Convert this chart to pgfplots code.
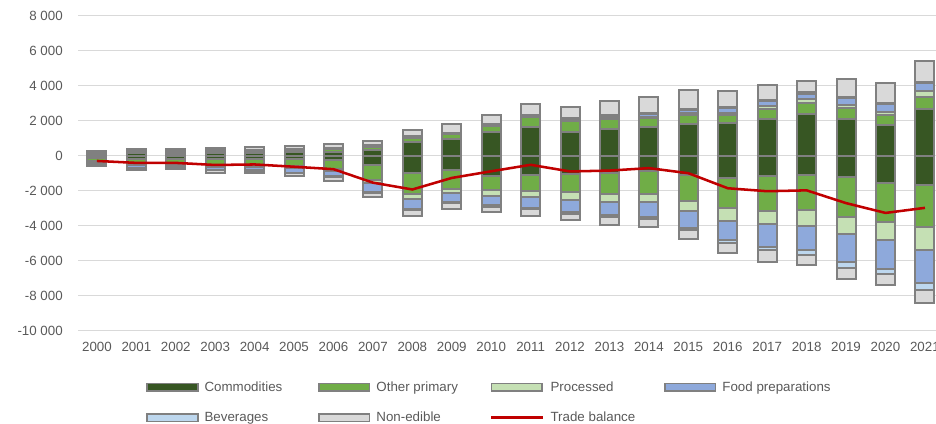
\documentclass[border=0pt]{standalone}
\usepackage{fontspec}
\setmainfont{Liberation Sans}
\usepackage{pgfplots}
\usepackage{pgfplotstable}
\pgfplotsset{compat=1.18}

\definecolor{comm}{HTML}{375623}
\definecolor{oprim}{HTML}{70AD47}
\definecolor{proc}{HTML}{C5E0B4}
\definecolor{food}{HTML}{8EA9DB}
\definecolor{bev}{HTML}{BDD7EE}
\definecolor{nonedible}{HTML}{D9D9D9}
\definecolor{edge}{HTML}{808080}
\definecolor{balance}{HTML}{C00000}
\definecolor{txt}{HTML}{595959}
\definecolor{gridc}{HTML}{D9D9D9}

% exports (positive part of the bars)
\pgfplotstableread{
year comm oprim proc food bev nonedible
2000 80 60 20 20 10 80
2001 130 80 20 30 10 120
2002 100 90 20 30 10 100
2003 150 90 20 30 10 130
2004 160 100 20 40 10 140
2005 180 120 30 40 10 160
2006 220 150 30 40 10 190
2007 330 160 30 50 10 250
2008 760 250 40 40 10 360
2009 930 280 40 50 10 470
2010 1330 360 50 60 15 500
2011 1610 590 50 70 20 590
2012 1360 590 80 90 20 650
2013 1520 560 110 110 30 780
2014 1610 520 80 170 40 940
2015 1800 520 110 190 40 1080
2016 1830 480 140 260 50 930
2017 2090 570 170 290 60 850
2018 2370 650 190 330 80 650
2019 2110 620 180 380 60 1000
2020 1750 560 200 430 60 1150
2021 2680 690 330 440 50 1230
}\exports

% imports (negative part of the bars)
\pgfplotstableread{
year comm oprim proc food bev nonedible
2000 -120 -200 -60 -100 -20 -80
2001 -200 -280 -80 -130 -30 -110
2002 -170 -280 -80 -130 -30 -100
2003 -200 -340 -100 -160 -40 -130
2004 -190 -360 -100 -180 -40 -130
2005 -190 -420 -120 -240 -40 -160
2006 -250 -500 -140 -300 -50 -200
2007 -540 -840 -210 -480 -60 -250
2008 -990 -1190 -300 -560 -70 -330
2009 -820 -1070 -240 -530 -60 -330
2010 -1160 -810 -320 -560 -70 -280
2011 -1130 -900 -330 -630 -90 -380
2012 -1080 -1030 -410 -690 -110 -385
2013 -1000 -1170 -460 -760 -110 -470
2014 -900 -1280 -480 -850 -110 -450
2015 -1100 -1520 -550 -980 -120 -520
2016 -1290 -1710 -720 -1120 -150 -560
2017 -1180 -1970 -780 -1270 -220 -650
2018 -1120 -2000 -880 -1420 -280 -560
2019 -1250 -2260 -990 -1610 -290 -670
2020 -1550 -2220 -1080 -1620 -300 -650
2021 -1660 -2450 -1280 -1900 -410 -710
}\imports

\pgfplotstableread{
year bal
2000 -310
2001 -420
2002 -420
2003 -540
2004 -510
2005 -640
2006 -780
2007 -1550
2008 -1940
2009 -1280
2010 -900
2011 -530
2012 -910
2013 -860
2014 -720
2015 -1010
2016 -1870
2017 -2040
2018 -1990
2019 -2720
2020 -3280
2021 -2990
}\balance

\pgfplotsset{
  frame/.style={
    scale only axis, width=643.5pt, height=236.25pt,
    at={(58.5pt,70.1pt)}, anchor=south west,
    xmin=1999.52, xmax=2021.28, ymin=-10000, ymax=8000,
  },
  bars/.style={
    frame, ybar stacked, bar width=14.25pt, hide axis,
    every axis plot/.append style={draw=edge, line width=1.5pt},
  },
  sw/.style={legend image code/.code={%
    \draw[draw=edge, line width=1.2pt, fill=#1] (0pt,-2.85pt) rectangle (38pt,2.85pt);}},
}

\begin{document}
\begin{tikzpicture}
\useasboundingbox (0,0) rectangle (702pt,318pt);

% grid and tick labels
\begin{axis}[
    frame,
    axis line style={draw=none},
    tick style={draw=none},
    ymajorgrids=true,
    grid style={gridc, line width=1.2pt},
    scaled ticks=false,
    xtick={2000,...,2021},
    ytick={-10000,-8000,...,8000},
    yticklabels={-10 000,-8 000,-6 000,-4 000,-2 000,0,2 000,4 000,6 000,8 000},
    /pgf/number format/assume math mode=true,
    x tick label style={/pgf/number format/1000 sep=},
    tick label style={font=\fontsize{10}{12}\selectfont, text=txt, inner sep=0pt},
    yticklabel style={anchor=east, xshift=-11.25pt},
    xticklabel style={anchor=base, yshift=-15.4pt},
]
\addplot[draw=none] coordinates {(2000,0)};
\end{axis}

% positive side
\begin{axis}[bars]
  \addplot[fill=comm] table[x=year,y=comm]{\exports};
  \addplot[fill=oprim] table[x=year,y=oprim]{\exports};
  \addplot[fill=proc] table[x=year,y=proc]{\exports};
  \addplot[fill=food] table[x=year,y=food]{\exports};
  \addplot[fill=bev] table[x=year,y=bev]{\exports};
  \addplot[fill=nonedible] table[x=year,y=nonedible]{\exports};
\end{axis}

% negative side
\begin{axis}[bars]
  \addplot[fill=comm] table[x=year,y=comm]{\imports};
  \addplot[fill=oprim] table[x=year,y=oprim]{\imports};
  \addplot[fill=proc] table[x=year,y=proc]{\imports};
  \addplot[fill=food] table[x=year,y=food]{\imports};
  \addplot[fill=bev] table[x=year,y=bev]{\imports};
  \addplot[fill=nonedible] table[x=year,y=nonedible]{\imports};
\end{axis}

% trade balance and legend
\begin{axis}[
    frame, hide axis,
    legend columns=4,
    legend cell align=left,
    legend style={
      at={(axis description cs:0.0793,-0.161)}, anchor=north west,
      draw=none, fill=none, inner sep=0pt,
      font=\fontsize{10}{12}\selectfont, text=txt,
      row sep=14pt, column sep=0pt,
      /tikz/every odd column/.append style={column sep=4.5pt},
      nodes={inner sep=0pt},
    },
]
  \addlegendimage{sw=comm}
  \addlegendimage{sw=oprim}
  \addlegendimage{sw=proc}
  \addlegendimage{sw=food}
  \addlegendimage{sw=bev}
  \addlegendimage{sw=nonedible}
  \addplot[balance, line width=1.9pt, mark=none,
    legend image code/.code={\draw[balance, line width=1.9pt] (0pt,0pt) -- (39pt,0pt);}]
    table[x=year,y=bal]{\balance};
  \legend{\makebox[85.2pt][l]{Commodities},\makebox[85.2pt][l]{Other primary},
    \makebox[85.2pt][l]{Processed},\makebox[85.2pt][l]{Food preparations},
    \makebox[85.2pt][l]{Beverages},\makebox[85.2pt][l]{Non-edible},
    \makebox[85.2pt][l]{Trade balance}}
\end{axis}
\end{tikzpicture}
\end{document}
